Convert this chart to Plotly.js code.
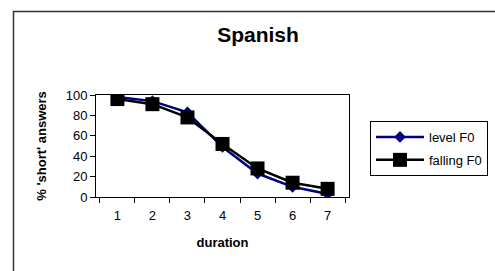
<!DOCTYPE html>
<html>
<head>
<meta charset="utf-8">
<script src="https://cdn.plot.ly/plotly-3.0.1.min.js"></script>
<style>html,body{margin:0;padding:0;background:#fff;}#chart{width:495px;height:271px;}</style>
</head>
<body>
<div id="chart"></div>
<script>
const durations = ['1', '2', '3', '4', '5', '6', '7'];
const levelF0 = [98, 94, 83, 49, 23, 10, 3];
const fallingF0 = [96, 91, 78, 52, 28, 14, 8];
const seriesNames = ['level F0', 'falling F0'];
const yTicks = [0, 20, 40, 60, 80, 100];

const font = 'Liberation Sans, Arial, sans-serif';

const traces = [
  {
    x: durations, y: levelF0, name: seriesNames[0], type: 'scatter', mode: 'lines+markers',
    legendgroup: 'a',
    line: {color: '#000080', width: 2.5},
    marker: {symbol: 'diamond', size: 9, color: '#000080'}
  },
  {
    x: durations, y: fallingF0, name: seriesNames[1], type: 'scatter', mode: 'lines+markers',
    legendgroup: 'b',
    line: {color: '#000000', width: 2.5},
    marker: {symbol: 'square', size: 14, color: '#000000'}
  }
];

const plotL = 96, plotR = 349, plotT = 95, plotB = 197;
const W = 495, H = 271;
const pw = plotR - plotL, ph = plotB - plotT;
const px = v => (v - plotL) / pw;
const py = v => (plotB - v) / ph;

const layout = {
  width: W, height: H,
  margin: {l: plotL, r: W - plotR, t: plotT, b: H - plotB, pad: 0, autoexpand: false},
  paper_bgcolor: '#ffffff', plot_bgcolor: '#ffffff',
  font: {family: font, size: 13, color: '#000'},
  showlegend: true,
  title: {text: '<b>Spanish</b>', font: {family: font, size: 21, color: '#000'},
          x: 258 / W, xref: 'container', xanchor: 'center', y: 1 - 35 / H, yanchor: 'middle'},
  xaxis: {
    type: 'category', tickson: 'boundaries', ticks: 'outside', ticklen: 5, tickcolor: '#000',
    showline: true, linecolor: '#000', linewidth: 1, mirror: true, showgrid: false, zeroline: false,
    tickfont: {family: font, size: 13}, ticklabelstandoff: 6,
    title: {text: '<b>duration</b>', font: {family: font, size: 13}, standoff: 16}
  },
  yaxis: {
    range: [0, 100], tickvals: yTicks, ticks: 'outside', ticklen: 5, tickcolor: '#000',
    showline: true, linecolor: '#000', linewidth: 1, mirror: true, showgrid: false, zeroline: false,
    tickfont: {family: font, size: 13},
    title: {text: "<b>% 'short' answers</b>", font: {family: font, size: 13}, standoff: 16}
  },
  legend: {
    x: px(370), y: py(121), xanchor: 'left', yanchor: 'top',
    bordercolor: '#000', borderwidth: 1, bgcolor: '#fff',
    font: {family: font, size: 13}, traceorder: 'grouped', tracegroupgap: 3, itemwidth: 48,
    entrywidth: 120, entrywidthmode: 'pixels'
  },
  shapes: [
    {type: 'rect', xref: 'paper', yref: 'paper', x0: px(13.5), x1: px(W + 20), y0: py(H + 20), y1: py(11.5),
     line: {color: '#333', width: 1.5}, fillcolor: 'rgba(0,0,0,0)', layer: 'below'}
  ]
};

Plotly.newPlot('chart', traces, layout, {staticPlot: true, displayModeBar: false});
</script>
</body>
</html>
